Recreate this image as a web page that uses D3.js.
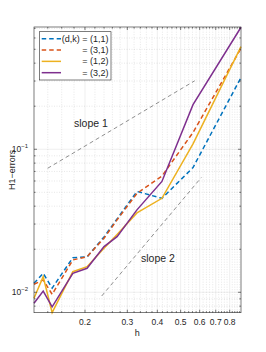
<!DOCTYPE html>
<html>
<head>
<meta charset="utf-8">
<script src="https://cdn.jsdelivr.net/npm/d3@7"></script>
<style>
  body { margin: 0; background: #fff; }
  text { font-family: "Liberation Sans", Arial, sans-serif; fill: #262626; }
</style>
</head>
<body>
<div id="chart"></div>
<script>
// mesh sizes h and H1 errors
const hValues = [0.1227, 0.134, 0.146, 0.178, 0.204, 0.24, 0.272, 0.329, 0.418, 0.563, 0.8916];
const err11 = [0.01156, 0.01358, 0.0107, 0.01746, 0.01766, 0.02438, 0.0326, 0.0507, 0.0454, 0.0745, 0.3177];
const err31 = [0.01138, 0.0122, 0.00968, 0.01683, 0.01774, 0.02387, 0.0321, 0.0491, 0.065, 0.131, 0.508];
const err12 = [0.00908, 0.01285, 0.0072, 0.01393, 0.0151, 0.0203, 0.0254, 0.0359, 0.0454, 0.109, 0.522];
const err32 = [0.00838, 0.0102, 0.00792, 0.01358, 0.01472, 0.02085, 0.02449, 0.0377, 0.0596, 0.205, 0.713];
const seriesNames = ["(d,k) = (1,1)", "= (3,1)", "= (1,2)", "= (3,2)"];

// reference slope lines
const slope1H = [0.1398, 0.572];
const slope1E = [0.0736, 0.301];
const slope2H = [0.2347, 0.6096];
const slope2E = [0.00942, 0.0635];

const xTickValues = [0.2, 0.3, 0.4, 0.5, 0.6, 0.7, 0.8];
const yTickExponents = [-2, -1];

const width = 266;
const height = 352;
const marginTop = 27;
const marginRight = 25;
const marginBottom = 39.3;
const marginLeft = 34;

const colors = ["#0072BD", "#D95319", "#EDB120", "#7E2F8E"];
const dashes = ["4.5,3", "4.5,3", null, null];
const allSeries = [err11, err31, err12, err32];

const x = d3.scaleLog()
  .domain([hValues[0], hValues[hValues.length - 1]])
  .range([marginLeft, width - marginRight]);

const y = d3.scaleLog()
  .domain([0.0072, 0.716])
  .range([height - marginBottom, marginTop]);

const x0 = marginLeft, x1 = width - marginRight;
const y0 = height - marginBottom, y1 = marginTop;

// minor tick positions
const xMinor = d3.range(14, 89, 2).map(d => d / 100).filter(d => !xTickValues.some(t => Math.abs(t - d) < 1e-9));
const yMinor = [];
[0.001, 0.01, 0.1].forEach(p => { for (let k = 2; k <= 9; k++) yMinor.push(k * p); });
const yMinorIn = yMinor.filter(d => d >= 0.0072 && d <= 0.716);
const yMajor = yTickExponents.map(e => Math.pow(10, e));

const svg = d3.create("svg")
  .attr("width", width)
  .attr("height", height)
  .attr("viewBox", [0, 0, width, height]);

svg.append("rect").attr("width", width).attr("height", height).attr("fill", "#fff");

// grid
const grid = svg.append("g");
grid.selectAll(".xminor").data(xMinor).join("line")
  .attr("x1", d => x(d)).attr("x2", d => x(d)).attr("y1", y0).attr("y2", y1)
  .attr("stroke", "#262626").attr("stroke-opacity", 0.22).attr("stroke-width", 0.5)
  .attr("stroke-dasharray", "1,1.5");
grid.selectAll(".yminor").data(yMinorIn).join("line")
  .attr("x1", x0).attr("x2", x1).attr("y1", d => y(d)).attr("y2", d => y(d))
  .attr("stroke", "#262626").attr("stroke-opacity", 0.22).attr("stroke-width", 0.5)
  .attr("stroke-dasharray", "1,1.5");
grid.selectAll(".xmajor").data(xTickValues).join("line")
  .attr("x1", d => x(d)).attr("x2", d => x(d)).attr("y1", y0).attr("y2", y1)
  .attr("stroke", "#262626").attr("stroke-opacity", 0.15).attr("stroke-width", 0.5);
grid.selectAll(".ymajor").data(yMajor).join("line")
  .attr("x1", x0).attr("x2", x1).attr("y1", d => y(d)).attr("y2", d => y(d))
  .attr("stroke", "#262626").attr("stroke-opacity", 0.15).attr("stroke-width", 0.5);

// slope guide lines
const guide = d3.line().x(d => x(d[0])).y(d => y(d[1]));
[[slope1H, slope1E], [slope2H, slope2E]].forEach(([hs, es]) => {
  svg.append("path")
    .attr("d", guide(d3.zip(hs, es)))
    .attr("fill", "none")
    .attr("stroke", "#444")
    .attr("stroke-width", 0.6)
    .attr("stroke-dasharray", "4,3");
});

svg.append("text").attr("x", 74).attr("y", 127).attr("font-size", 10.5).text("slope 1");
svg.append("text").attr("x", 141).attr("y", 262).attr("font-size", 10.5).text("slope 2");

// data lines
const line = d3.line().x((d, i) => x(hValues[i])).y(d => y(d));
allSeries.forEach((s, i) => {
  svg.append("path")
    .attr("d", line(s))
    .attr("fill", "none")
    .attr("stroke", colors[i])
    .attr("stroke-width", 1.5)
    .attr("stroke-dasharray", dashes[i]);
});

// box and ticks
const axes = svg.append("g").attr("stroke", "#262626").attr("stroke-width", 0.6);
axes.append("rect")
  .attr("x", x0).attr("y", y1).attr("width", x1 - x0).attr("height", y0 - y1)
  .attr("fill", "none");

function xTicks(vals, len) {
  axes.append("g").selectAll("line").data(vals).join("line")
    .attr("x1", d => x(d)).attr("x2", d => x(d)).attr("y1", y0).attr("y2", y0 - len);
  axes.append("g").selectAll("line").data(vals).join("line")
    .attr("x1", d => x(d)).attr("x2", d => x(d)).attr("y1", y1).attr("y2", y1 + len);
}
function yTicks(vals, len) {
  axes.append("g").selectAll("line").data(vals).join("line")
    .attr("y1", d => y(d)).attr("y2", d => y(d)).attr("x1", x0).attr("x2", x0 + len);
  axes.append("g").selectAll("line").data(vals).join("line")
    .attr("y1", d => y(d)).attr("y2", d => y(d)).attr("x1", x1).attr("x2", x1 - len);
}
xTicks(xTickValues, 3);
xTicks(xMinor, 1.6);
yTicks(yMajor, 3);
yTicks(yMinorIn, 1.6);

// tick labels
svg.append("g").selectAll("text").data(xTickValues).join("text")
  .attr("x", d => x(d)).attr("y", y0 + 12)
  .attr("text-anchor", "middle").attr("font-size", 8.5)
  .text(d => d3.format(".1f")(d));

const yLab = svg.append("g").selectAll("text").data(yTickExponents).join("text")
  .attr("x", x0 - 6).attr("y", d => y(Math.pow(10, d)) + 3)
  .attr("text-anchor", "end").attr("font-size", 8.5);
yLab.append("tspan").text("10");
yLab.append("tspan").attr("font-size", 6).attr("dy", -4).text(d => "\u2212" + Math.abs(d));

svg.append("text")
  .attr("x", x(0.3) + 10).attr("y", y0 + 23)
  .attr("text-anchor", "middle").attr("font-size", 9).text("h");

svg.append("text")
  .attr("transform", `translate(15,${(y0 + y1) / 2}) rotate(-90)`)
  .attr("text-anchor", "middle").attr("font-size", 9).text("H1\u2212errors");

// legend
const legend = svg.append("g");
legend.append("rect")
  .attr("x", 39.3).attr("y", 31.7).attr("width", 71.7).attr("height", 48.3)
  .attr("fill", "#fff").attr("stroke", "#262626").attr("stroke-width", 0.6);
seriesNames.forEach((name, i) => {
  const ry = 38.7 + i * 11.33;
  legend.append("line")
    .attr("x1", 41.7).attr("x2", 61).attr("y1", ry).attr("y2", ry)
    .attr("stroke", colors[i]).attr("stroke-width", 1.5)
    .attr("stroke-dasharray", dashes[i]);
  legend.append("text")
    .attr("x", 108.5).attr("y", ry + 3)
    .attr("text-anchor", "end").attr("font-size", 9)
    .text(name);
});

document.getElementById("chart").append(svg.node());
</script>
</body>
</html>
